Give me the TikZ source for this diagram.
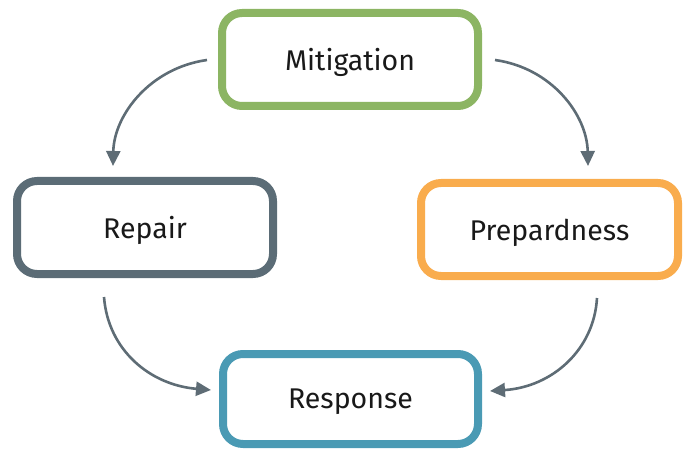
\documentclass[tikz,border=0pt]{standalone}
\usepackage{fontspec}
\setmainfont{Fira Sans}
\usetikzlibrary{arrows.meta}
\definecolor{cgreen}{HTML}{8CB563}
\definecolor{cgray}{HTML}{5B6C76}
\definecolor{corange}{HTML}{F9AC4D}
\definecolor{cteal}{HTML}{4A9AB4}
\definecolor{carrow}{HTML}{5E6C75}
\tikzset{
  phase/.style={draw=#1, line width=8pt, rounded corners=20pt, fill=white,
    minimum width=256pt, minimum height=93pt, inner sep=0pt, text depth=0pt,
    font=\fontsize{28.5}{32}\selectfont, text=black!90},
  flow/.style={draw=carrow, line width=2.6pt, -{Triangle[length=15pt,width=14pt]}}
}
\begin{document}
\begin{tikzpicture}[x=1pt,y=1pt]
\useasboundingbox (0,0) rectangle (686,448);
\node[phase=cgreen] (mit) at (350,{448-59.5}) {Mitigation};
\node[phase=cgray] (rep) at (145,{448-227.5}) {Repair};
\node[phase=corange, minimum width=257pt] (pre) at (549.5,{448-229.5}) {Prepardness};
\node[phase=cteal, minimum width=255pt, minimum height=90pt] (res) at (350.5,{448-399}) {Response};
\coordinate (a1s) at (207,{448-60});
\coordinate (a1e) at (113,{448-166});
\coordinate (a2s) at (495,{448-60});
\coordinate (a2e) at (588,{448-166});
\coordinate (a3s) at (104,{448-297});
\coordinate (a3e) at (211,{448-390});
\coordinate (a4s) at (597,{448-298});
\coordinate (a4e) at (490,{448-391});
\draw[flow] (a1s) .. controls (150,{448-68}) and (114,{448-115}) .. (a1e);
\draw[flow] (a2s) .. controls (552,{448-68}) and (587,{448-115}) .. (a2e);
\draw[flow] (a3s) .. controls (108,{448-350}) and (150,{448-385}) .. (a3e);
\draw[flow] (a4s) .. controls (594,{448-350}) and (552,{448-387}) .. (a4e);
\end{tikzpicture}
\end{document}
